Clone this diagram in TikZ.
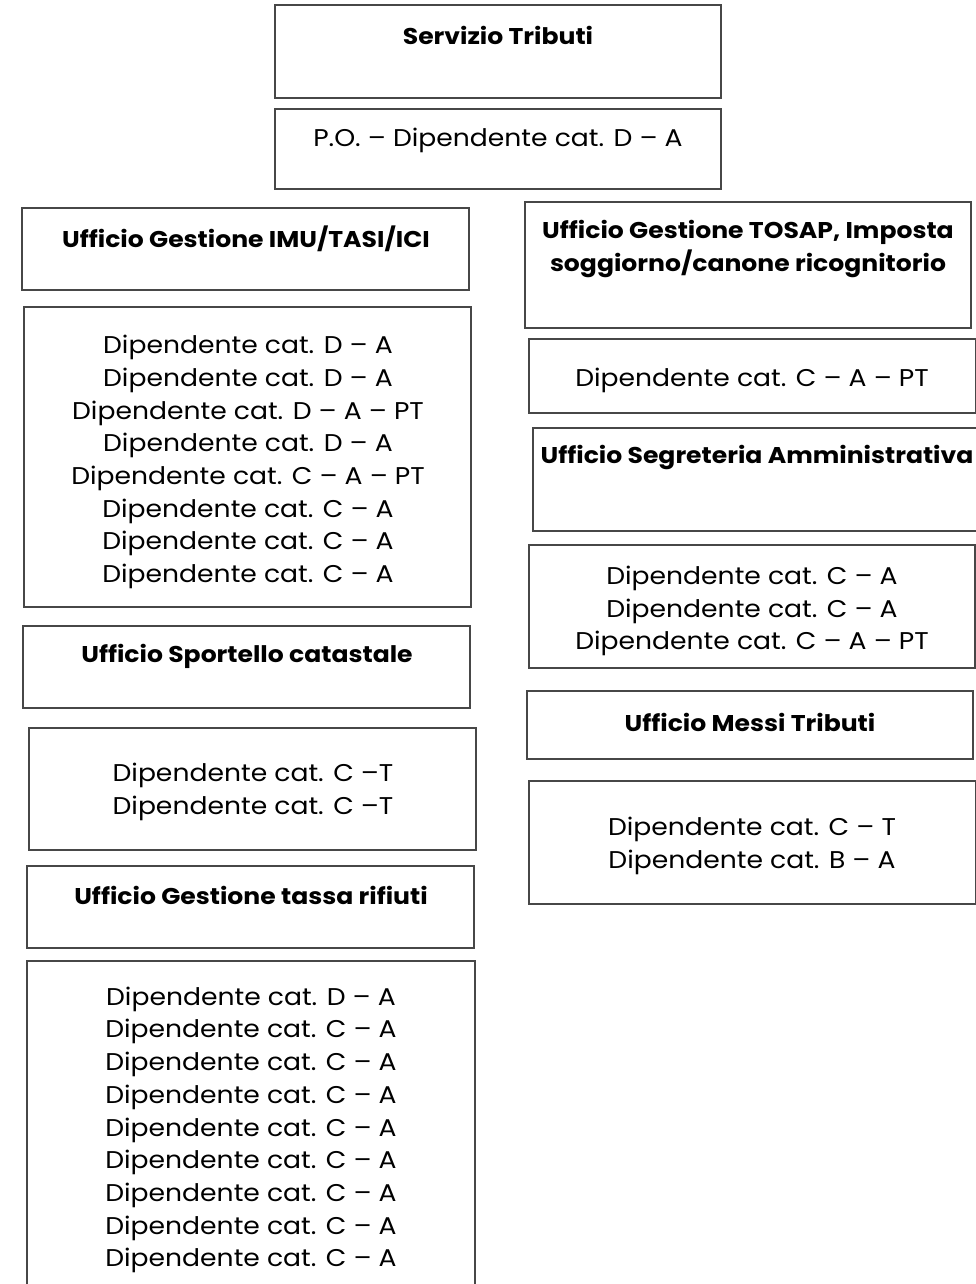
\documentclass[tikz,border=0pt]{standalone}
\usepackage{fontspec}
\setmainfont{Poppins}[FakeStretch=1.1]
\begin{document}
\begin{tikzpicture}[x=1pt,y=-1pt,
  box/.style={draw=black!72,line width=1.3pt,anchor=north west,inner sep=0pt,outer sep=0pt},
  head/.style={font=\fontsize{22.8}{32.7}\selectfont\bfseries,align=center,inner sep=0pt,anchor=center},
  body/.style={font=\fontsize{24.2}{32.7}\selectfont,align=center,inner sep=0pt,anchor=center}]
\useasboundingbox (0,0) rectangle (976,1284);
\newcommand{\bx}[5]{\node[box,minimum width=#4-#2,minimum height=#5-#3] (#1) at (#2,#3) {};}
% top
\bx{st}{275}{5}{721}{98}
\node[head] (tst) at (498,35) {Servizio Tributi};
\bx{po}{275}{109}{721}{189}
\node[body] (tpo) at (498,140) {P.O. – Dipendente cat. D – A};
% left column
\bx{imu}{22}{208}{469}{290}
\node[head] (timu) at (246,239) {Ufficio Gestione IMU/TASI/ICI};
\bx{imud}{24}{307}{471}{607}
\node[body] (timud) at (248,462) {Dipendente cat. D – A\\Dipendente cat. D – A\\Dipendente cat. D – A – PT\\Dipendente cat. D – A\\Dipendente cat. C – A – PT\\Dipendente cat. C – A\\Dipendente cat. C – A\\Dipendente cat. C – A};
\bx{spo}{23}{626}{470}{708}
\node[head] (tspo) at (247,656) {Ufficio Sportello catastale};
\bx{spod}{29}{728}{476}{850}
\node[body] (tspod) at (253,792) {Dipendente cat. C –T\\Dipendente cat. C –T};
\bx{tar}{27}{866}{474}{948}
\node[head] (ttar) at (251,895) {Ufficio Gestione tassa rifiuti};
\draw[draw=black!72,line width=1.3pt] (27,1290) |- (475,961) -- (475,1290);
\coordinate (tard) at (251,961);
\node[body] (ttard) at (251,1130) {Dipendente cat. D – A\\Dipendente cat. C – A\\Dipendente cat. C – A\\Dipendente cat. C – A\\Dipendente cat. C – A\\Dipendente cat. C – A\\Dipendente cat. C – A\\Dipendente cat. C – A\\Dipendente cat. C – A};
% right column
\bx{tos}{525}{202}{971}{328}
\node[head] (ttos) at (748,249) {Ufficio Gestione TOSAP, Imposta\\soggiorno/canone ricognitorio};
\bx{tosd}{529}{339}{976}{413}
\node[body] (ttosd) at (752,380) {Dipendente cat. C – A – PT};
\bx{seg}{533}{428}{977}{531}
\node[head] (tseg) at (757,457) {Ufficio Segreteria Amministrativa};
\bx{segd}{529}{545}{975}{668}
\node[body] (tsegd) at (752,611) {Dipendente cat. C – A\\Dipendente cat. C – A\\Dipendente cat. C – A – PT};
\bx{mes}{527}{691}{973}{759}
\node[head] (tmes) at (750,722) {Ufficio Messi Tributi};
\bx{mesd}{529}{781}{976}{904}
\node[body] (tmesd) at (752,846) {Dipendente cat. C – T\\Dipendente cat. B – A};
\end{tikzpicture}
\end{document}
